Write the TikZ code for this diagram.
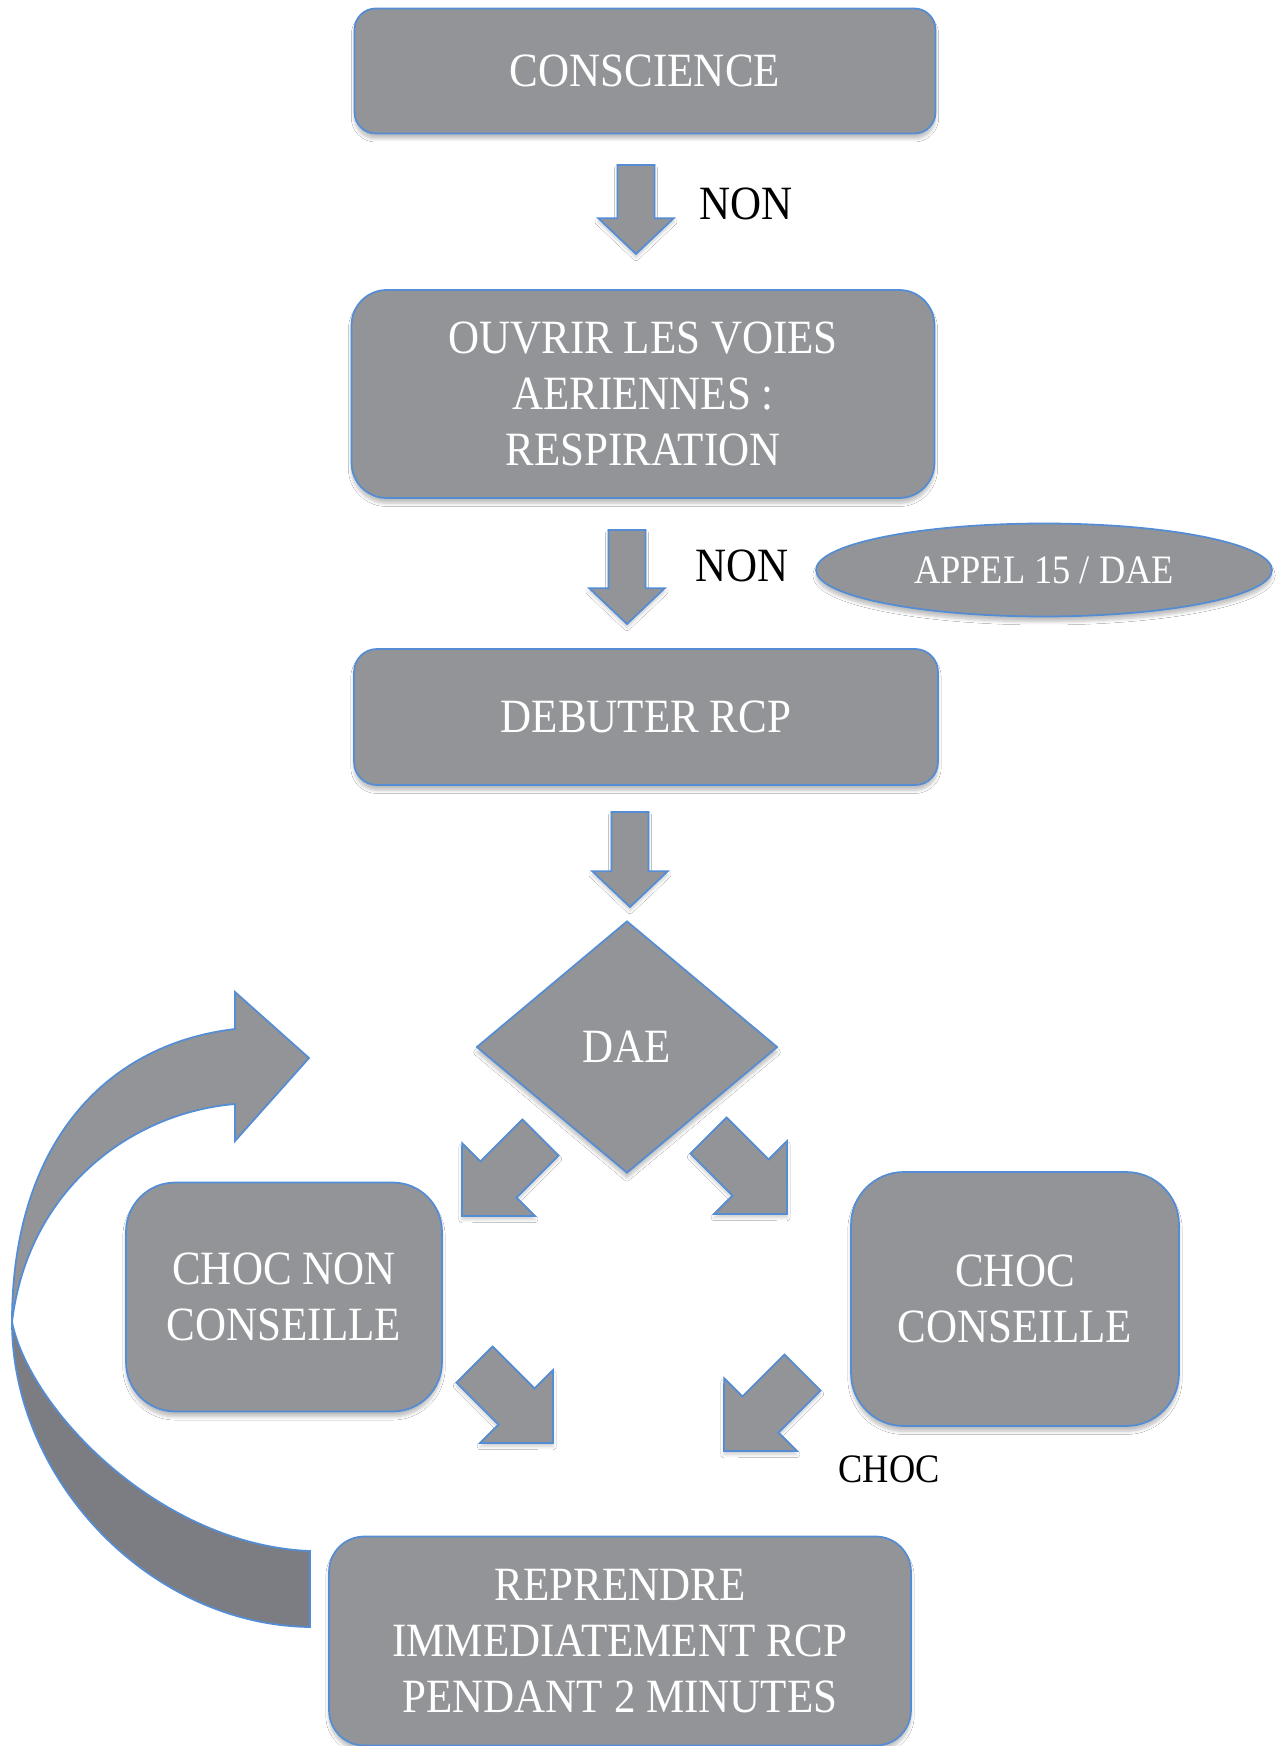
\documentclass[tikz,border=0pt]{standalone}
\usepackage{fontspec}
\setmainfont{Liberation Serif}[FakeStretch=0.9]
\usetikzlibrary{calc,shapes.geometric,shadows.blur}

\definecolor{boxgrey}{RGB}{147,148,152}
\definecolor{backgrey}{RGB}{124,125,130}
\definecolor{edgeblue}{RGB}{84,141,212}

\newcommand{\boxfont}{\fontsize{27.2}{31.7}\selectfont}
\newcommand{\smallfont}{\fontsize{23}{27}\selectfont}

\tikzset{
  flowbox/.style={draw=edgeblue, line width=1pt, fill=boxgrey, text=white, font=\boxfont, align=center, inner sep=0pt,
    blur shadow={shadow xshift=0pt, shadow yshift=-3pt, shadow opacity=25, shadow blur steps=6}},
  answer/.style={font=\boxfont, text=black, inner sep=0pt},
  arrowshape/.style={draw=edgeblue, line width=1pt, fill=boxgrey, line join=miter,
    blur shadow={shadow xshift=0pt, shadow yshift=-2pt, shadow opacity=20, shadow blur steps=5}},
  bandshape/.style={draw=edgeblue, line width=1pt}
}

% block arrow: tail, tip, shaft half width, head half width, head length
\newcommand{\blockarrow}[5]{%
  \coordinate (hb) at ($(#2)!#5!(#1)$);
  \filldraw[arrowshape] ($(#1)!#3!90:(#2)$) -- ($(hb)!#3!90:(#2)$) -- ($(hb)!#4!90:(#2)$) -- (#2)
    -- ($(hb)!#4!-90:(#2)$) -- ($(hb)!#3!-90:(#2)$) -- ($(#1)!#3!-90:(#2)$) -- cycle;
}

\begin{document}
\begin{tikzpicture}[x=0.02cm, y=-0.02cm]
  \path[fill=white, use as bounding box] (0,0) rectangle (1284,1746);

  % steps
  \node[flowbox, minimum width=11.62cm, minimum height=2.5cm, rounded corners=12pt] (consc) at (645,71) {CONSCIENCE};
  \node[flowbox, minimum width=11.66cm, minimum height=4.16cm, rounded corners=20pt] (ouvrir) at (643,394) {OUVRIR LES VOIES\\AERIENNES :\\RESPIRATION};
  \node[flowbox, shape=ellipse, font=\smallfont, minimum width=9.12cm, minimum height=1.86cm] (appel) at (1044,570) {APPEL 15 / DAE};
  \node[flowbox, minimum width=11.68cm, minimum height=2.72cm, rounded corners=13pt] (debut) at (646,717) {DEBUTER RCP};
  \node[flowbox, shape=diamond, minimum width=6.02cm, minimum height=5.04cm] (dae) at (627,1047) {DAE};
  \node[flowbox, minimum width=6.32cm, minimum height=4.58cm, rounded corners=28pt] (chocnon) at (284,1297) {CHOC NON\\CONSEILLE};
  \node[flowbox, minimum width=6.56cm, minimum height=5.08cm, rounded corners=30pt] (chocoui) at (1015,1299) {CHOC\\CONSEILLE};
  \node[flowbox, minimum width=11.64cm, minimum height=4.18cm, rounded corners=20pt] (reprendre) at (620,1641) {REPRENDRE\\IMMEDIATEMENT RCP\\PENDANT 2 MINUTES};

  % answers
  \node[answer] (non1) at (746,204) {NON};
  \node[answer] (non2) at (742,566) {NON};
  \node[answer, font=\smallfont] (choctxt) at (889,1469) {CHOC};

  % block arrows
  \coordinate (a1) at (636,165); \coordinate (a1e) at (636,254);
  \coordinate (a2) at (627,530); \coordinate (a2e) at (627,624);
  \coordinate (a3) at (630,812); \coordinate (a3e) at (630,907);
  \blockarrow{a1}{a1e}{10.5pt}{21.5pt}{20.4pt}
  \blockarrow{a2}{a2e}{10.5pt}{21.5pt}{20.4pt}
  \blockarrow{a3}{a3e}{10.5pt}{21.5pt}{20.4pt}

  \coordinate (dl) at (540.5,1137.5); \coordinate (dle) at (462,1216);
  \coordinate (dr) at (708.5,1135.5); \coordinate (dre) at (787,1214);
  \coordinate (nr) at (474.5,1364.5); \coordinate (nre) at (553,1443);
  \coordinate (cl) at (802.5,1372.5); \coordinate (cle) at (724,1451);
  \blockarrow{dl}{dle}{14.5pt}{29.2pt}{29.3pt}
  \blockarrow{dr}{dre}{14.5pt}{29.2pt}{29.3pt}
  \blockarrow{nr}{nre}{14.5pt}{29.2pt}{29.3pt}
  \blockarrow{cl}{cle}{14.5pt}{29.2pt}{29.3pt}

  % loop back arrow
  \filldraw[bandshape, fill=backgrey] (12,1322) .. controls (12,1480) and (150,1625) .. (310,1627)
    -- (310,1551) .. controls (160,1545) and (30,1410) .. (12,1322) -- cycle;
  \filldraw[bandshape, fill=boxgrey] (235,1029) .. controls (100,1045) and (12,1150) .. (12,1322)
    .. controls (28,1190) and (130,1113) .. (235,1104) -- (235,1141) -- (309,1058) -- (235,992) -- cycle;
\end{tikzpicture}
\end{document}
